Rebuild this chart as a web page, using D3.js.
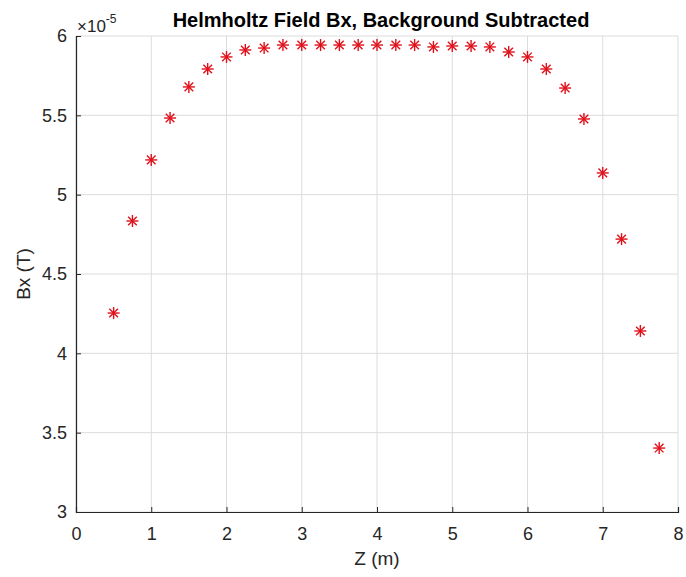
<!DOCTYPE html>
<html><head><meta charset="utf-8">
<script src="https://cdn.jsdelivr.net/npm/d3@7"></script>
<style>body{margin:0;background:#fff}</style>
</head><body>
<svg id="c" width="686" height="577"></svg>
<script>
const zVals = [0.5,0.75,1,1.25,1.5,1.75,2,2.25,2.5,2.75,3,3.25,3.5,3.75,4,4.25,4.5,4.75,5,5.25,5.5,5.75,6,6.25,6.5,6.75,7,7.25,7.5,7.75];
const bxVals = [4.254,4.834,5.219,5.483,5.679,5.792,5.868,5.912,5.924,5.943,5.943,5.943,5.943,5.943,5.943,5.943,5.943,5.931,5.937,5.937,5.931,5.899,5.868,5.792,5.672,5.477,5.137,4.72,4.141,3.403];
const xTicks = [0,1,2,3,4,5,6,7,8];
const yTicks = [3,3.5,4,4.5,5,5.5,6];
const title = "Helmholtz Field Bx, Background Subtracted";

const svg = d3.select("#c");
const L=76,R=678,T=36,B=512;
const x = d3.scaleLinear().domain([0,8]).range([L,R]);
const y = d3.scaleLinear().domain([3,6]).range([B,T]);
const font = "Helvetica, Arial, 'Liberation Sans', sans-serif";

// grid
const g = svg.append("g");
g.selectAll(".vx").data(xTicks).enter().append("line")
 .attr("x1",d=>x(d)).attr("x2",d=>x(d)).attr("y1",T).attr("y2",B)
 .attr("stroke","#dcdcdc").attr("stroke-width",1);
g.selectAll(".hy").data(yTicks).enter().append("line")
 .attr("y1",d=>y(d)).attr("y2",d=>y(d)).attr("x1",L).attr("x2",R)
 .attr("stroke","#dcdcdc").attr("stroke-width",1);

// axes
const xa = svg.append("g").attr("transform",`translate(0,${B})`)
 .call(d3.axisBottom(x).tickValues(xTicks).tickSize(-5).tickPadding(15).tickFormat(d3.format("d")));
const ya = svg.append("g").attr("transform",`translate(${L},0)`)
 .call(d3.axisLeft(y).tickValues(yTicks).tickSize(-5).tickPadding(9).tickFormat(d=>d3.format("")(d)));
[xa,ya].forEach(a=>{
 a.select(".domain").attr("stroke","#262626").attr("stroke-width",1.2);
 a.selectAll(".tick line").attr("stroke","#262626");
 a.selectAll(".tick text").attr("fill","#262626").style("font-family",font).style("font-size","18px");
});

// markers
const s=6;
const m = svg.append("g").selectAll("g").data(zVals.map((z,i)=>[z,bxVals[i]])).enter().append("g")
 .attr("transform",d=>`translate(${x(d[0])},${y(d[1])})`)
 .attr("stroke","#e0101a").attr("stroke-width",1.4);
m.append("line").attr("x1",-s).attr("x2",s).attr("y1",0).attr("y2",0);
m.append("line").attr("x1",0).attr("x2",0).attr("y1",-s).attr("y2",s);
m.append("line").attr("x1",-s*0.72).attr("x2",s*0.72).attr("y1",-s*0.72).attr("y2",s*0.72);
m.append("line").attr("x1",-s*0.72).attr("x2",s*0.72).attr("y1",s*0.72).attr("y2",-s*0.72);

// texts
svg.append("text").attr("x",381).attr("y",27).attr("text-anchor","middle")
 .style("font-family",font).style("font-size","20px").style("font-weight","bold").attr("fill","#000").text(title);
const ex = svg.append("text").attr("x",77).attr("y",32).style("font-family",font).style("font-size","17px").attr("fill","#262626");
ex.append("tspan").text("×10");
ex.append("tspan").attr("dy",-9).style("font-size","12px").text("-5");
svg.append("text").attr("x",377).attr("y",565).attr("text-anchor","middle")
 .style("font-family",font).style("font-size","19px").attr("fill","#262626").text("Z (m)");
svg.append("text").attr("transform",`translate(30,${(T+B)/2}) rotate(-90)`).attr("text-anchor","middle")
 .style("font-family",font).style("font-size","19px").attr("fill","#262626").text("Bx (T)");
</script>
</body></html>
